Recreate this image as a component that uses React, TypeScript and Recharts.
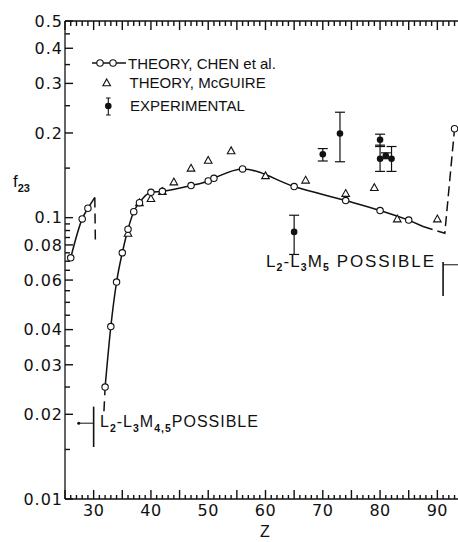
import { ComposedChart, Line, Scatter, XAxis, YAxis, ErrorBar, ReferenceLine, ReferenceDot } from 'recharts'

// Chen et al. theory (open circles)
const CHEN_Z = [26, 28, 29, 32, 33, 34, 35, 36, 37, 38, 40, 42, 47, 50, 51, 56, 65, 74, 80, 85, 93]
const CHEN_F = [0.072, 0.099, 0.108, 0.025, 0.041, 0.059, 0.075, 0.091, 0.105, 0.113, 0.123, 0.124, 0.13, 0.135, 0.138, 0.149, 0.129, 0.115, 0.106, 0.098, 0.207]

// McGuire theory (triangles)
const MCG_Z = [36, 38, 40, 42, 44, 47, 50, 54, 60, 67, 74, 79, 83, 90]
const MCG_F = [0.088, 0.113, 0.117, 0.124, 0.134, 0.15, 0.16, 0.173, 0.141, 0.136, 0.122, 0.128, 0.099, 0.099]

// experimental points, with lower / upper error
const EXP_Z = [65, 70, 73, 80, 80, 81, 82]
const EXP_F = [0.089, 0.168, 0.199, 0.189, 0.162, 0.166, 0.162]
const EXP_LO = [0.015, 0.009, 0.041, 0.01, 0.016, 0.004, 0.016]
const EXP_HI = [0.013, 0.008, 0.038, 0.009, 0.019, 0.004, 0.017]

// extensions of the chen curve past the computed points
const LOW_TAIL_Z = [29, 30.2]
const LOW_TAIL_F = [0.108, 0.118]
const LOW_EDGE_Z = [30.2, 30.3]
const LOW_EDGE_F = [0.118, 0.083]
const MAIN_HEAD_Z = [31.8, 32]
const MAIN_HEAD_F = [0.0205, 0.025]
const MAIN_TAIL_Z = [85, 87.5]
const MAIN_TAIL_F = [0.098, 0.093]
const HIGH_EDGE_Z = [87.5, 91.3, 93]
const HIGH_EDGE_F = [0.093, 0.088, 0.207]

const X_LABELS = [30, 40, 50, 60, 70, 80, 90]
const Y_LABELS = [0.01, 0.02, 0.03, 0.04, 0.06, 0.08, 0.1, 0.2, 0.3, 0.4, 0.5]
const Y_MINOR = [0.015, 0.025, 0.035, 0.045, 0.05, 0.055, 0.065, 0.07, 0.075, 0.085, 0.09, 0.095, 0.15, 0.25, 0.35, 0.45]

const X_MIN = 25
const X_MAX = 95
const Y_MIN = 0.01
const Y_MAX = 0.5

const X_TICKS: number[] = []
for (let z = X_MIN; z <= X_MAX; z++) X_TICKS.push(z)
const Y_TICKS = [...Y_LABELS, ...Y_MINOR].sort((a, b) => a - b)

const pts = (zs: number[], fs: number[]) => zs.map((z, i) => ({ z, f: fs[i] }))

const chen = pts(CHEN_Z, CHEN_F)
const chenLow = chen.slice(0, 3)
const chenMain = chen.slice(3, 20)
const mcg = pts(MCG_Z, MCG_F)
const exp = EXP_Z.map((z, i) => ({ z, f: EXP_F[i], err: [EXP_LO[i], EXP_HI[i]] }))

const INK = '#111'
const NUM_FONT = 'DejaVu Sans, sans-serif'
const TXT_FONT = 'Liberation Sans, Arial, sans-serif'
const TICK_W = 1.4

const BottomLabel = (p: any) => {
  const v = p.payload.value
  if (!X_LABELS.includes(v)) return <g />
  return (
    <text x={Number(p.x)} y={Number(p.y) + 17} textAnchor="middle" fontFamily={NUM_FONT} fontSize={16} letterSpacing={0.5} fill={INK}>
      {v}
    </text>
  )
}

const LeftLabel = (p: any) => {
  const v = p.payload.value
  if (!Y_LABELS.includes(v)) return <g />
  return (
    <text x={Number(p.x) - 2} y={Number(p.y) + 5.8} textAnchor="end" fontFamily={NUM_FONT} fontSize={16} letterSpacing={1} fill={INK}>
      {String(v)}
    </text>
  )
}

// a vertical reference line at z, drawn only as stubs at the top and bottom frame
const xStub = (z: number) => (p: any) => {
  const x = Number(p.x1)
  const top = Math.min(Number(p.y1), Number(p.y2))
  const bot = Math.max(Number(p.y1), Number(p.y2))
  const lenB = z % 5 === 0 ? 9 : 4
  const lenT = z % 5 === 0 ? 9 : 5
  return (
    <g>
      <rect x={x - TICK_W / 2} y={top} width={TICK_W} height={lenT} fill={INK} />
      <rect x={x - TICK_W / 2} y={bot - lenB} width={TICK_W} height={lenB} fill={INK} />
    </g>
  )
}

// a horizontal reference line at f, drawn only as a stub on the left frame
const yStub = (f: number) => (p: any) => {
  const y = Number(p.y1)
  const left = Math.min(Number(p.x1), Number(p.x2))
  const len = Y_LABELS.includes(f) ? 8 : 5
  return <rect x={left} y={y - TICK_W / 2} width={len} height={TICK_W} fill={INK} />
}

const OpenCircle = (p: any) => <circle cx={p.cx} cy={p.cy} r={3.2} fill="#fff" stroke={INK} strokeWidth={1.1} />
const Triangle = (p: any) => (
  <path d={`M${p.cx},${p.cy - 3.8} L${p.cx + 3.8},${p.cy + 3} L${p.cx - 3.8},${p.cy + 3} Z`} fill="#fff" stroke={INK} strokeWidth={1.1} />
)
const Dot = (p: any) => <circle cx={p.cx} cy={p.cy} r={3.3} fill={INK} />

export default function App() {
  return (
    <div style={{ position: 'absolute', left: 0, top: 0, width: 458, height: 542, overflow: 'hidden', background: '#fff' }}>
      <ComposedChart width={466} height={542} margin={{ top: 0, right: 0, bottom: 0, left: 0 }}>
        <XAxis
          dataKey="z" type="number" domain={[X_MIN, X_MAX]} ticks={X_TICKS} interval={0}
          height={43} tickSize={0} tickMargin={0} tickLine={false}
          axisLine={{ stroke: INK, strokeWidth: 1.3 }} tick={<BottomLabel />} allowDataOverflow
        />
        <XAxis
          xAxisId="top" orientation="top" dataKey="z" type="number" domain={[X_MIN, X_MAX]} ticks={X_TICKS} interval={0}
          height={21} tickSize={0} tickMargin={0} tickLine={false}
          axisLine={{ stroke: INK, strokeWidth: 1.3 }} tick={false} allowDataOverflow
        />
        <YAxis
          dataKey="f" scale="log" type="number" domain={[Y_MIN, Y_MAX]} ticks={Y_TICKS} interval={0}
          width={65} tickSize={0} tickMargin={0} tickLine={false}
          axisLine={{ stroke: INK, strokeWidth: 1.3 }} tick={<LeftLabel />} allowDataOverflow
        />

        {X_TICKS.map(z => (
          <ReferenceLine key={`xt${z}`} x={z} stroke={INK} shape={xStub(z)} />
        ))}
        {Y_TICKS.map(f => (
          <ReferenceLine key={`yt${f}`} y={f} stroke={INK} shape={yStub(f)} />
        ))}

        <Line data={chenLow} dataKey="f" type="monotone" stroke={INK} strokeWidth={1.5} dot={false} isAnimationActive={false} />
        <Line data={chenMain} dataKey="f" type="monotone" stroke={INK} strokeWidth={1.5} dot={false} isAnimationActive={false} />
        <Line data={pts(LOW_TAIL_Z, LOW_TAIL_F)} dataKey="f" stroke={INK} strokeWidth={1.5} dot={false} isAnimationActive={false} />
        <Line data={pts(LOW_EDGE_Z, LOW_EDGE_F)} dataKey="f" stroke={INK} strokeWidth={1.5} strokeDasharray="10 6" dot={false} isAnimationActive={false} />
        <Line data={pts(MAIN_HEAD_Z, MAIN_HEAD_F)} dataKey="f" stroke={INK} strokeWidth={1.5} strokeDasharray="10 6" dot={false} isAnimationActive={false} />
        <Line data={pts(MAIN_TAIL_Z, MAIN_TAIL_F)} dataKey="f" stroke={INK} strokeWidth={1.5} dot={false} isAnimationActive={false} />
        <Line data={pts(HIGH_EDGE_Z, HIGH_EDGE_F)} dataKey="f" stroke={INK} strokeWidth={1.5} strokeDasharray="10 5" dot={false} isAnimationActive={false} />

        <ReferenceLine segment={[{ x: 30, y: 0.0213 }, { x: 30, y: 0.0153 }]} stroke={INK} strokeWidth={1.6} />
        <ReferenceLine segment={[{ x: 27.4, y: 0.0186 }, { x: 30, y: 0.0186 }]} stroke={INK} strokeWidth={1} />
        <ReferenceDot x={27.4} y={0.0186} r={1.5} fill={INK} stroke="none" />
        <ReferenceLine segment={[{ x: 91, y: 0.0696 }, { x: 91, y: 0.0527 }]} stroke={INK} strokeWidth={1.6} />
        <ReferenceLine segment={[{ x: 91, y: 0.068 }, { x: 95, y: 0.068 }]} stroke={INK} strokeWidth={1} />

        <Scatter data={mcg} dataKey="f" shape={<Triangle />} isAnimationActive={false} />
        <Scatter data={chen} dataKey="f" shape={<OpenCircle />} isAnimationActive={false} />
        <Scatter data={exp} dataKey="f" shape={<Dot />} isAnimationActive={false}>
          <ErrorBar dataKey="err" direction="y" width={5} stroke={INK} strokeWidth={1.2} />
        </Scatter>
      </ComposedChart>

      <svg width={458} height={542} style={{ position: 'absolute', left: 0, top: 0, pointerEvents: 'none' }}>
        {/* legend */}
        <line x1={92} x2={126} y1={63} y2={63} stroke={INK} strokeWidth={1.4} />
        <circle cx={100} cy={63} r={3.2} fill="#fff" stroke={INK} strokeWidth={1.1} />
        <circle cx={113} cy={63} r={3.2} fill="#fff" stroke={INK} strokeWidth={1.1} />
        <text x={128} y={69} fontFamily={TXT_FONT} fontSize={15} fill={INK}>THEORY, CHEN  et  al.</text>
        <path d="M106.7,79 L110.5,85.8 L102.9,85.8 Z" fill="#fff" stroke={INK} strokeWidth={1.1} />
        <text x={129.5} y={88} fontFamily={TXT_FONT} fontSize={15} fill={INK}>THEORY, McGUIRE</text>
        <line x1={108.3} x2={108.3} y1={98} y2={115} stroke={INK} strokeWidth={1.1} />
        <line x1={106} x2={110.6} y1={98} y2={98} stroke={INK} strokeWidth={1} />
        <line x1={106} x2={110.6} y1={115} y2={115} stroke={INK} strokeWidth={1} />
        <circle cx={108.3} cy={106} r={3.3} fill={INK} />
        <text x={130} y={111} fontFamily={TXT_FONT} fontSize={15} fill={INK}>EXPERIMENTAL</text>

        {/* axis titles */}
        <text x={13} y={187} fontFamily={TXT_FONT} fontSize={17} fill={INK}>
          f<tspan fontSize={11} fontWeight="bold" dy={5}>23</tspan>
        </text>
        <text x={265} y={537} textAnchor="middle" fontFamily={TXT_FONT} fontSize={16} fill={INK}>Z</text>

        {/* threshold notes */}
        <text x={266} y={267} fontFamily={TXT_FONT} fontSize={17} letterSpacing={1.1} fill={INK}>
          L<tspan fontSize={10.5} fontWeight="bold" dy={4}>2</tspan>
          <tspan dy={-4}>-L</tspan><tspan fontSize={10.5} fontWeight="bold" dy={4}>3</tspan>
          <tspan dy={-4}>M</tspan><tspan fontSize={10.5} fontWeight="bold" dy={4}>5</tspan>
          <tspan dy={-4} letterSpacing={1.9}>{'  POSSIBLE'}</tspan>
        </text>
        <text x={100} y={427} fontFamily={TXT_FONT} fontSize={16} letterSpacing={1} fill={INK}>
          L<tspan fontSize={10.5} fontWeight="bold" dy={5}>2</tspan>
          <tspan dy={-5}>-L</tspan><tspan fontSize={10.5} fontWeight="bold" dy={5}>3</tspan>
          <tspan dy={-5}>M</tspan><tspan fontSize={10.5} fontWeight="bold" dy={5}>4,5</tspan>
          <tspan dy={-5}>POSSIBLE</tspan>
        </text>
      </svg>
    </div>
  )
}
